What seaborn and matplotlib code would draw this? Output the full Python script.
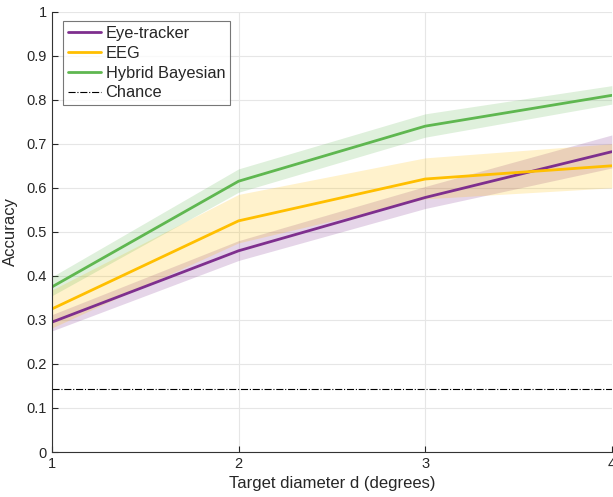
import numpy as np
import pandas as pd
import matplotlib
matplotlib.use("Agg")
import matplotlib.pyplot as plt
import seaborn as sns
from matplotlib.lines import Line2D

diameters = [1, 2, 3, 4]
series_names = ["Eye-tracker", "EEG", "Hybrid Bayesian"]
eye_mean = [0.295, 0.457, 0.578, 0.682]
eye_low = [0.275, 0.435, 0.553, 0.645]
eye_high = [0.312, 0.480, 0.603, 0.720]
eeg_mean = [0.325, 0.525, 0.620, 0.650]
eeg_low = [0.282, 0.475, 0.575, 0.600]
eeg_high = [0.368, 0.585, 0.668, 0.700]
hyb_mean = [0.375, 0.615, 0.740, 0.810]
hyb_low = [0.355, 0.590, 0.715, 0.790]
hyb_high = [0.398, 0.643, 0.768, 0.832]
chance = 1 / 7

colors = {"Eye-tracker": "#7E2F8E", "EEG": "#FFBF00", "Hybrid Bayesian": "#5FB750"}

sns.set_style("white")
plt.rcParams["font.family"] = ["Liberation Sans", "DejaVu Sans"]

rows = []
for name, m in zip(series_names, [eye_mean, eeg_mean, hyb_mean]):
    for d, v in zip(diameters, m):
        rows.append({"d": d, "acc": v, "method": name})
df = pd.DataFrame(rows)

fig = plt.figure(figsize=(6.13, 4.97), dpi=100)
ax = fig.add_axes([0.0848, 0.0905, 0.9132, 0.886])

bands = {"Eye-tracker": (eye_low, eye_high), "EEG": (eeg_low, eeg_high),
         "Hybrid Bayesian": (hyb_low, hyb_high)}
for name in series_names:
    lo, hi = bands[name]
    ax.fill_between(diameters, lo, hi, color=colors[name], alpha=0.2, linewidth=0)

sns.lineplot(data=df, x="d", y="acc", hue="method", palette=colors,
             hue_order=series_names, linewidth=2, ax=ax, legend=False)
ax.axhline(chance, color="black", linestyle="-.", linewidth=0.8)

handles = [Line2D([], [], color=colors[n], lw=2) for n in series_names]
handles.append(Line2D([], [], color="black", lw=0.8, ls="-."))
leg = ax.legend(handles, series_names + ["Chance"], loc="upper left",
                bbox_to_anchor=(0.005, 0.998), fontsize=11.8, frameon=True,
                fancybox=False, edgecolor="#555555", handlelength=2.0,
                borderpad=0.3, labelspacing=0.3, handletextpad=0.3)
leg.get_frame().set_linewidth(0.8)

ax.set_xlim(1, 4)
ax.set_ylim(0, 1)
ax.set_xticks(diameters)
ax.set_yticks(np.arange(0, 1.01, 0.1))
ax.set_yticklabels(["0", "0.1", "0.2", "0.3", "0.4", "0.5", "0.6", "0.7", "0.8", "0.9", "1"])
ax.grid(True, color="#e6e6e6", linewidth=0.8)
ax.set_axisbelow(True)
for s in ["top", "right"]:
    ax.spines[s].set_visible(False)
for s in ["left", "bottom"]:
    ax.spines[s].set_color("#333333")
    ax.spines[s].set_linewidth(0.8)
ax.tick_params(direction="in", length=4, colors="#262626", labelsize=10.5, width=0.8,
               left=True, bottom=True)
ax.set_xlabel("Target diameter d (degrees)", fontsize=12, color="#262626", labelpad=4)
ax.set_ylabel("Accuracy", fontsize=12, color="#262626", labelpad=6)

fig.savefig("out.png", dpi=100)
